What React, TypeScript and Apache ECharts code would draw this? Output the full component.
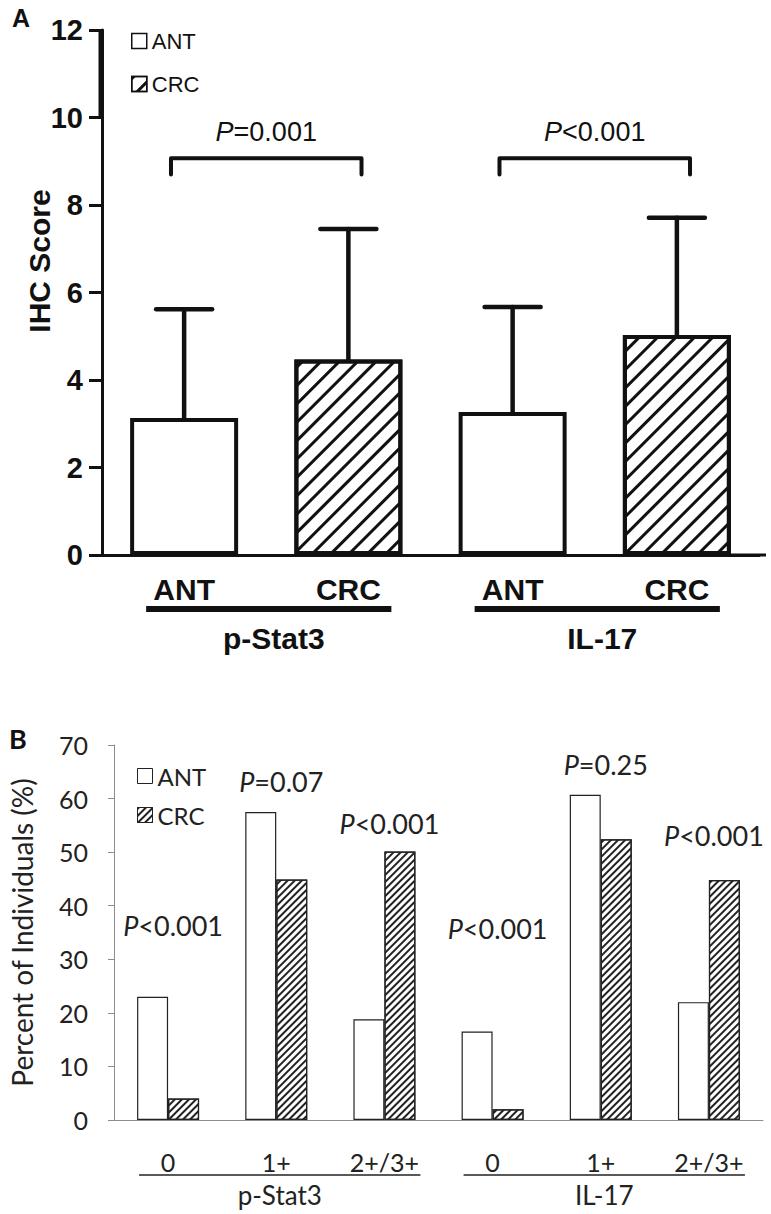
import React, { useEffect, useRef } from "react";
import * as echarts from "echarts";

// ---------- Panel A data ----------
const catsA = ["ANT", "CRC", "ANT", "CRC"];
const meanA = [3.13, 4.47, 3.27, 5.03];
const upperA = [5.62, 7.45, 5.67, 7.71];
const groupsA = ["p-Stat3", "IL-17"];
const bracketPairsA = [
  [0, 1],
  [2, 3],
];
const bracketLevelA = [9.07, 9.07];
const bracketEndA = [8.7, 8.7];
const pTextA = ["=0.001", "<0.001"];

// ---------- Panel B data ----------
const catsB = ["0", "1+", "2+/3+", "0", "1+", "2+/3+"];
const antB = [23, 57.5, 18.8, 16.5, 60.7, 22];
const crcB = [4, 44.9, 50.1, 2, 52.4, 44.8];
const pTextB = ["<0.001", "=0.07", "<0.001", "<0.001", "=0.25", "<0.001"];
const pLevelB = [36.4, 63.1, 55.4, 35.8, 66.3, 53.2];
const groupsB = ["p-Stat3", "IL-17"];

const FA = "Arial, 'Liberation Sans', sans-serif";
const FB = "Lato, 'Open Sans', sans-serif";
const INK = "#111";
const INKB = "#222";
const GRAYB = "#8c8c8c";

export default function App() {
  const ref = useRef<HTMLDivElement>(null);

  useEffect(() => {
    if (!ref.current) return;
    const chart = echarts.init(ref.current, undefined, { renderer: "svg" });

    const option: any = {
      animation: false,
      backgroundColor: "#fff",
      grid: [
        { left: 102, top: 30, width: 657, height: 525 },
        { left: 107, top: 745, width: 656, height: 375 },
      ],
      legend: [
        {
          data: ["ANT", "CRC"],
          orient: "vertical",
          left: 126,
          top: 25,
          itemWidth: 15,
          itemHeight: 15,
          itemGap: 21,
          icon: "rect",
          selectedMode: false,
          itemStyle: { borderWidth: 1.5, borderColor: INK },
          textStyle: { fontFamily: FA, fontSize: 22, color: INK },
        },
        {
          data: ["ANT ", "CRC "],
          formatter: (n: string) => n.trim(),
          orient: "vertical",
          left: 132,
          top: 759,
          itemWidth: 15,
          itemHeight: 15,
          itemGap: 15,
          icon: "rect",
          selectedMode: false,
          itemStyle: { borderWidth: 1, borderColor: INKB },
          textStyle: { fontFamily: FB, fontSize: 24, color: INKB },
        },
      ],
      xAxis: [
        {
          gridIndex: 0,
          type: "category",
          data: catsA,
          axisLine: { lineStyle: { color: INK, width: 3 } },
          axisTick: { alignWithLabel: true, length: 14, lineStyle: { width: 3, color: INK } },
          axisLabel: { fontFamily: FA, fontWeight: "bold", fontSize: 30, color: INK, margin: 19 },
        },
        {
          gridIndex: 1,
          type: "category",
          data: catsB,
          axisLine: { lineStyle: { color: GRAYB, width: 1 } },
          axisTick: { length: 12, lineStyle: { color: GRAYB } },
          axisLabel: { fontFamily: FB, fontSize: 25, color: INKB, margin: 29 },
        },
      ],
      yAxis: [
        {
          gridIndex: 0,
          type: "value",
          min: 0,
          max: 12,
          interval: 2,
          axisLine: { show: true, lineStyle: { color: INK, width: 3 } },
          axisTick: { show: true, length: 13, lineStyle: { width: 3, color: INK } },
          splitLine: { show: false },
          axisLabel: { fontFamily: FA, fontWeight: "bold", fontSize: 29, color: INK, margin: 19 },
        },
        {
          gridIndex: 1,
          type: "value",
          min: 0,
          max: 70,
          interval: 10,
          axisLine: { show: true, lineStyle: { color: GRAYB, width: 1 } },
          axisTick: { show: true, length: 6, lineStyle: { color: GRAYB } },
          splitLine: { show: false },
          axisLabel: { fontFamily: FB, fontSize: 25, color: INKB, margin: 26 },
          name: "Percent of Individuals (%)",
          nameLocation: "middle",
          nameGap: 78,
          nameTextStyle: { fontFamily: FB, fontSize: 28, color: INKB },
        },
      ],
      series: [
        {
          name: "ANT",
          type: "bar",
          xAxisIndex: 0,
          yAxisIndex: 0,
          barWidth: 108,
          barGap: "-100%",
          data: catsA.map((c, i) => (c === "ANT" ? meanA[i] : "-")),
          itemStyle: { color: "#fff", borderColor: INK, borderWidth: 4 },
        },
        {
          name: "CRC",
          type: "bar",
          xAxisIndex: 0,
          yAxisIndex: 0,
          barWidth: 108,
          barGap: "-100%",
          data: catsA.map((c, i) => (c === "CRC" ? meanA[i] : "-")),
          itemStyle: {
            color: "#fff",
            borderColor: INK,
            borderWidth: 4,
            decal: {
              symbol: "rect",
              symbolSize: 1,
              dashArrayX: [1, 0],
              dashArrayY: [3, 10],
              rotation: -Math.PI / 4,
              color: INK,
            },
          },
        },
        {
          type: "custom",
          xAxisIndex: 0,
          yAxisIndex: 0,
          z: 3,
          clip: false,
          data: meanA.map((m, i) => [i, m, upperA[i]]),
          renderItem: (params: any, api: any) => {
            const b = api.coord([api.value(0), api.value(1)]);
            const t = api.coord([api.value(0), api.value(2)]);
            const st = { stroke: INK, lineWidth: 4.5, lineCap: "round" };
            return {
              type: "group",
              children: [
                { type: "line", shape: { x1: b[0], y1: b[1], x2: t[0], y2: t[1] }, style: st },
                { type: "line", shape: { x1: t[0] - 28, y1: t[1], x2: t[0] + 28, y2: t[1] }, style: st },
              ],
            };
          },
        },
        {
          type: "custom",
          xAxisIndex: 0,
          yAxisIndex: 0,
          z: 3,
          clip: false,
          data: bracketPairsA.map((p, i) => [p[0], p[1], bracketLevelA[i], bracketEndA[i], i]),
          renderItem: (params: any, api: any) => {
            const a = api.coord([api.value(0), api.value(2)]);
            const b = api.coord([api.value(1), api.value(2)]);
            const e = api.coord([api.value(0), api.value(3)]);
            const bw = api.size([1, 0])[0];
            const x0 = a[0] - bw * 0.08;
            const x1 = b[0] + bw * 0.08;
            const st = { stroke: INK, lineWidth: 4, lineCap: "round", lineJoin: "round", fill: "none" };
            return {
              type: "group",
              children: [
                {
                  type: "polyline",
                  shape: { points: [[x0, e[1]], [x0, a[1]], [x1, a[1]], [x1, e[1]]] },
                  style: st,
                },
                {
                  type: "text",
                  style: {
                    x: (x0 + x1) / 2,
                    y: a[1] - 26,
                    text: "{i|P}" + pTextA[api.value(4)],
                    align: "center",
                    verticalAlign: "middle",
                    fontFamily: FA,
                    fontSize: 27,
                    fill: INK,
                    rich: { i: { fontStyle: "italic", fontFamily: FA, fontSize: 27, fill: INK } },
                  },
                },
              ],
            };
          },
        },
        {
          name: "ANT ",
          type: "bar",
          xAxisIndex: 1,
          yAxisIndex: 1,
          barWidth: 31,
          barGap: "0%",
          data: antB,
          itemStyle: { color: "#fff", borderColor: INKB, borderWidth: 1.2 },
        },
        {
          name: "CRC ",
          type: "bar",
          xAxisIndex: 1,
          yAxisIndex: 1,
          barWidth: 31,
          barGap: "0%",
          data: crcB,
          itemStyle: {
            color: "#fff",
            borderColor: INKB,
            borderWidth: 1.2,
            decal: {
              symbol: "rect",
              symbolSize: 1,
              dashArrayX: [1, 0],
              dashArrayY: [1.6, 2.6],
              rotation: -Math.PI / 4,
              color: INKB,
            },
          },
        },
        {
          type: "custom",
          xAxisIndex: 1,
          yAxisIndex: 1,
          z: 3,
          clip: false,
          data: pLevelB.map((v, i) => [i, v]),
          renderItem: (params: any, api: any) => {
            const p = api.coord([api.value(0), api.value(1)]);
            return {
              type: "text",
              style: {
                x: p[0] + 5,
                y: p[1],
                text: "{i|P}" + pTextB[params.dataIndex],
                align: "center",
                verticalAlign: "middle",
                fontFamily: FB,
                fontSize: 27,
                fill: INKB,
                rich: { i: { fontStyle: "italic", fontFamily: FB, fontSize: 27, fill: INKB } },
              },
            };
          },
        },
      ],
    };

    chart.setOption(option);

    const pA = (x: number, y: number) => chart.convertToPixel({ gridIndex: 0 }, [x, y]) as number[];
    const pB = (x: number, y: number) => chart.convertToPixel({ gridIndex: 1 }, [x, y]) as number[];
    const bwA = pA(1, 0)[0] - pA(0, 0)[0];
    const axisXA = pA(0, 0)[0] - bwA / 2;
    const y0A = pA(0, 0)[1];
    const y0B = pB(0, 0)[1];

    const graphics: any[] = [];
    graphics.push({
      type: "text",
      left: 12,
      top: 5,
      style: { text: "A", fontFamily: FA, fontWeight: "bold", fontSize: 25, fill: INK },
    });
    graphics.push({
      type: "text",
      left: 9,
      top: 725,
      style: { text: "B", fontFamily: FB, fontWeight: "bold", fontSize: 27, fill: INK },
    });
    graphics.push({
      type: "text",
      x: 39,
      y: 261,
      rotation: Math.PI / 2,
      style: {
        text: "IHC Score",
        fontFamily: FA,
        fontWeight: "bold",
        fontSize: 30,
        fill: INK,
        align: "center",
        verticalAlign: "middle",
      },
    });
    // axis break upper segment (thicker)
    graphics.push({
      type: "line",
      shape: { x1: axisXA - 1, y1: pA(0, 12)[1], x2: axisXA - 1, y2: pA(0, 10)[1] },
      style: { stroke: INK, lineWidth: 5 },
    });
    // x-axis extension to the right
    graphics.push({
      type: "line",
      shape: { x1: pA(3, 0)[0], y1: y0A, x2: pA(3, 0)[0] + bwA / 2 + 7, y2: y0A },
      style: { stroke: INK, lineWidth: 3 },
    });
    groupsA.forEach((g, gi) => {
      const x0 = pA(gi * 2, 0)[0] - 38;
      const x1 = pA(gi * 2 + 1, 0)[0] + 43;
      graphics.push({
        type: "line",
        shape: { x1: x0, y1: y0A + 54, x2: x1, y2: y0A + 54 },
        style: { stroke: INK, lineWidth: 6 },
      });
      graphics.push({
        type: "text",
        x: (x0 + x1) / 2 + 5,
        y: y0A + 83,
        style: {
          text: g,
          fontFamily: FA,
          fontWeight: "bold",
          fontSize: 30,
          fill: INK,
          align: "center",
          verticalAlign: "middle",
        },
      });
    });
    groupsB.forEach((g, gi) => {
      const x0 = pB(gi * 3, 0)[0] - 29;
      const x1 = pB(gi * 3 + 2, 0)[0] + 36;
      graphics.push({
        type: "line",
        shape: { x1: x0, y1: y0B + 55, x2: x1, y2: y0B + 55 },
        style: { stroke: INKB, lineWidth: 1.5 },
      });
      graphics.push({
        type: "text",
        x: (x0 + x1) / 2,
        y: y0B + 75,
        style: {
          text: g,
          fontFamily: FB,
          fontSize: 26,
          fill: INKB,
          align: "center",
          verticalAlign: "middle",
        },
      });
    });
    chart.setOption({ graphic: graphics });

    return () => chart.dispose();
  }, []);

  return (
    <div
      ref={ref}
      style={{ position: "absolute", left: 0, top: 0, width: 771, height: 1214, background: "#fff" }}
    />
  );
}
